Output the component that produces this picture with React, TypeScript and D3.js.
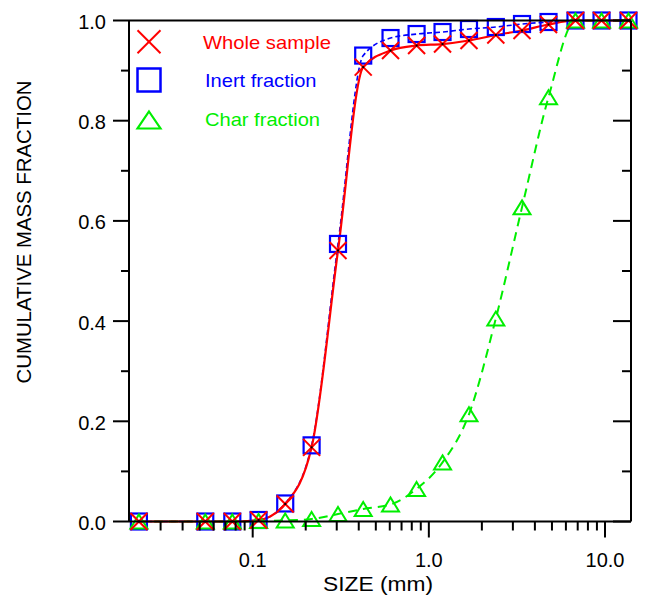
import React from "react";
import * as d3 from "d3";

// ---- data ----
const sizes = [0.0226, 0.0538, 0.0766, 0.108, 0.153, 0.216, 0.305, 0.424, 0.606, 0.852, 1.196, 1.69, 2.4, 3.38, 4.78, 6.8, 9.56, 13.6];
const wholeSample = [0, 0, 0, 0.003, 0.035, 0.148, 0.541, 0.907, 0.94, 0.95, 0.953, 0.96, 0.971, 0.98, 0.992, 1, 1, 1];
const inertFraction = [0, 0, 0, 0.003, 0.036, 0.152, 0.554, 0.93, 0.965, 0.973, 0.977, 0.983, 0.987, 0.993, 0.997, 1, 1, 1];
const charFraction = [0, 0, 0, 0.001, 0.002, 0.005, 0.015, 0.025, 0.034, 0.065, 0.118, 0.214, 0.405, 0.627, 0.847, 1, 1, 1];

const xDomain = [0.01985, 14.05];
const yDomain = [0, 1];
const xMajorTicks = [0.1, 1, 10];
const xMajorLabels = ["0.1", "1.0", "10.0"];
const yMajorTicks = [0, 0.2, 0.4, 0.6, 0.8, 1.0];
const yMinorTicks = [0.1, 0.3, 0.5, 0.7, 0.9];
const legendLabels = ["Whole sample", "Inert fraction", "Char fraction"];

const W = 653;
const H = 596;
const plot = { left: 129, right: 631, top: 20.5, bottom: 521.5 };
const FONT = "'Liberation Sans', Arial, Helvetica, sans-serif";
const RED = "#ff0000";
const BLUE = "#0000ff";
const GREEN = "#00ee00";

export default function App() {
  const x = d3.scaleLog().domain(xDomain).range([plot.left, plot.right]);
  const y = d3.scaleLinear().domain(yDomain).range([plot.bottom, plot.top]);

  // minor x ticks: 2..9 times each decade inside the domain
  const xMinor: number[] = [];
  for (let e = -2; e <= 1; e++) {
    for (let m = 2; m <= 9; m++) {
      const v = m * Math.pow(10, e);
      if (v > xDomain[0] * 1.02 && v < xDomain[1]) xMinor.push(v);
    }
  }

  const mkLine = (vals: number[], curve: any) =>
    d3
      .line<number>()
      .x((_, i) => x(sizes[i]))
      .y((d) => y(d))
      .curve(curve)(vals) as string;

  const cross = (cx: number, cy: number, h: number, color: string, key: string, sw = 2) => (
    <g key={key} stroke={color} strokeWidth={sw} fill="none">
      <line x1={cx - h} y1={cy - h} x2={cx + h} y2={cy + h} />
      <line x1={cx - h} y1={cy + h} x2={cx + h} y2={cy - h} />
    </g>
  );
  const square = (cx: number, cy: number, h: number, color: string, key: string, sw = 2.2) => (
    <rect key={key} x={cx - h} y={cy - h} width={2 * h} height={2 * h} fill="none" stroke={color} strokeWidth={sw} />
  );
  const triangle = (cx: number, cy: number, hw: number, hh: number, color: string, key: string, sw = 2) => (
    <path
      key={key}
      d={`M${cx},${cy - hh}L${cx + hw},${cy + hh}L${cx - hw},${cy + hh}Z`}
      fill="none"
      stroke={color}
      strokeWidth={sw}
      strokeLinejoin="miter"
    />
  );

  const legendY = [41.7, 80, 120];
  const legendTextY = [48.5, 86.5, 126];
  const legendTextX = [203, 205, 205];
  const legendTextLen = [128, 111.5, 115];
  const legendColors = [RED, BLUE, GREEN];

  return (
    <svg
      width={W}
      height={H}
      style={{ position: "absolute", left: 0, top: 0, background: "#fff" }}
      fontFamily={FONT}
    >
      <rect x={0} y={0} width={W} height={H} fill="#fff" />

      {/* series lines */}
      <path d={mkLine(inertFraction, d3.curveMonotoneX)} fill="none" stroke={BLUE} strokeWidth={1.6} strokeDasharray="5,3" />
      <path d={mkLine(charFraction, d3.curveMonotoneX)} fill="none" stroke={GREEN} strokeWidth={2} strokeDasharray="9,6" />
      <path d={mkLine(wholeSample, d3.curveMonotoneX)} fill="none" stroke={RED} strokeWidth={2.2} />

      {/* markers */}
      {sizes.map((s, i) => square(x(s), y(inertFraction[i]), 8, BLUE, "sq" + i))}
      {sizes.map((s, i) => triangle(x(s), y(charFraction[i]), 8.5, 7, GREEN, "tr" + i))}
      {sizes.map((s, i) => cross(x(s), y(wholeSample[i]), 8.5, RED, "cr" + i))}
      {sizes.map((s, i) => (
        <rect key={"dot" + i} x={x(s) - 1} y={y(wholeSample[i]) - 1} width={2} height={2} fill="#000" />
      ))}

      {/* frame */}
      <g stroke="#000" strokeWidth={2} fill="none">
        <line x1={plot.left} y1={plot.top} x2={plot.right} y2={plot.top} />
        <line x1={plot.left} y1={plot.bottom} x2={plot.right} y2={plot.bottom} />
        <line x1={plot.left} y1={plot.top} x2={plot.left} y2={plot.bottom} />
        <line x1={plot.right} y1={plot.top} x2={plot.right} y2={plot.bottom} />
      </g>

      {/* y ticks */}
      <g stroke="#000" strokeWidth={2}>
        {yMajorTicks.map((v) => (
          <g key={"ym" + v}>
            <line x1={plot.left - 16} x2={plot.left} y1={y(v)} y2={y(v)} />
            <line x1={plot.right - 18} x2={plot.right} y1={y(v)} y2={y(v)} />
          </g>
        ))}
        {yMinorTicks.map((v) => (
          <g key={"yn" + v}>
            <line x1={plot.left - 8} x2={plot.left} y1={y(v)} y2={y(v)} />
            <line x1={plot.right - 9} x2={plot.right} y1={y(v)} y2={y(v)} />
          </g>
        ))}
      </g>
      {yMajorTicks.map((v) => (
        <text key={"yl" + v} x={106} y={y(v) + 8.5} textAnchor="end" fontSize={20} fill="#000">
          {v.toFixed(1)}
        </text>
      ))}

      {/* x ticks */}
      <g stroke="#000" strokeWidth={2}>
        {xMajorTicks.map((v) => (
          <line key={"xm" + v} x1={x(v)} x2={x(v)} y1={plot.bottom} y2={plot.bottom + 16} />
        ))}
        {xMinor.map((v) => (
          <line key={"xn" + v} x1={x(v)} x2={x(v)} y1={plot.bottom} y2={plot.bottom + 9} />
        ))}
      </g>
      {xMajorTicks.map((v, i) => (
        <text key={"xl" + v} x={x(v)} y={567} textAnchor="middle" fontSize={20} fill="#000">
          {xMajorLabels[i]}
        </text>
      ))}

      {/* axis titles */}
      <text
        x={378}
        y={591}
        textAnchor="middle"
        fontSize={21}
        fill="#000"
        textLength={110}
        lengthAdjust="spacingAndGlyphs"
      >
        SIZE (mm)
      </text>
      <text
        transform={`translate(31,232) rotate(-90)`}
        textAnchor="middle"
        fontSize={20}
        fill="#000"
        textLength={303}
        lengthAdjust="spacingAndGlyphs"
      >
        CUMULATIVE MASS FRACTION
      </text>

      {/* legend */}
      {cross(149, legendY[0], 11.5, RED, "lg0")}
      {square(149, legendY[1], 11.5, BLUE, "lg1", 2.5)}
      {triangle(149, legendY[2], 11.5, 8.5, GREEN, "lg2", 2.2)}
      {legendLabels.map((t, i) => (
        <text
          key={"lt" + i}
          x={legendTextX[i]}
          y={legendTextY[i]}
          fontSize={18.5}
          fill={legendColors[i]}
          textLength={legendTextLen[i]}
          lengthAdjust="spacingAndGlyphs"
        >
          {t}
        </text>
      ))}
    </svg>
  );
}
